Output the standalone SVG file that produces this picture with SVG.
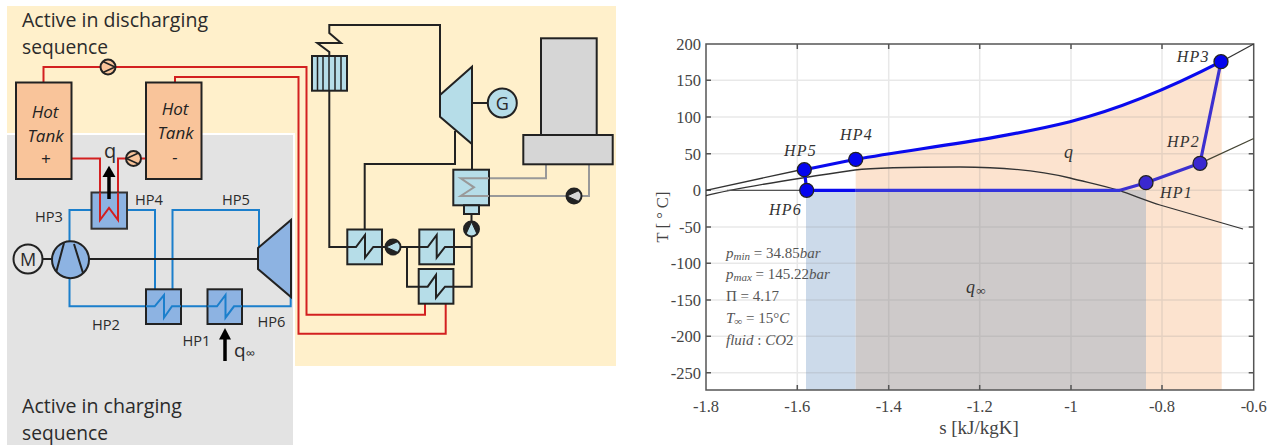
<svg xmlns="http://www.w3.org/2000/svg" width="1276" height="445" viewBox="0 0 1276 445">
<style>
.l{font-family:"Open Sans","Noto Sans",sans-serif;fill:#2b2b2b}
.big{font-size:20px}
.hp{font-size:15px}
.ital{font-family:"Open Sans","Noto Sans",sans-serif;font-style:italic;font-size:17px;fill:#222;text-anchor:middle}
.box{stroke:#222;stroke-width:2}
.tank{fill:#F9C49A}
.hb{fill:#8DB3E2}
.cy{fill:#B6DDE8}
.gr{fill:#D6D6D6}
.n{fill:none;stroke-linejoin:miter}
.red{stroke:#D32020;stroke-width:2}
.blu{stroke:#1B7FCC;stroke-width:2}
.blk{stroke:#222;stroke-width:2}
.gry{stroke:#999;stroke-width:2}
.grid{stroke:#8a8a8a;stroke-opacity:.2;stroke-width:1.5;fill:none}
.tick{stroke:#555;stroke-width:1.5;fill:none}
.num{font-family:"Liberation Serif",serif;font-size:16.5px;fill:#444}
.hpl{font-family:"Liberation Serif",serif;font-style:italic;font-size:16px;fill:#333;letter-spacing:1.2px}
.ann{font-family:"Liberation Serif",serif;font-size:15px;fill:#555}
.ann .i{font-style:italic}
.sub{font-size:11px;font-style:italic}
</style>
<defs>
<g id="pmp" stroke="#222"><circle r="7.500" stroke-width="2"/><path d="M-7 0L5-5.500M-7 0L5 5.500" fill="none" stroke-width="1.600"/></g>
<g id="pmpd" stroke="#222"><circle r="7.500" stroke-width="2"/><path d="M-7 0L5-5.500L0-7.200L-6-4.500ZM-7 0L5 5.500L0 7.200L-6 4.500Z" fill="#222" stroke-width="1"/></g>
</defs>
<rect width="1276" height="445" fill="#fff"/>

<g id="backgrounds">
<path d="M7 6H616V366H295V133H7Z" fill="#FFF0CB"/>
<rect x="7" y="135" width="286" height="310" fill="#E3E3E3"/>
</g>

<g id="connectors">
<g class="n red">
<path d="M43.500 82V67H306.500V314.700H425V304"/>
<path d="M175 82V77H298.500V333.700H445.700V304"/>
<path d="M71.500 158.500H100V193M118 193V158.500H126M141 158.500H146"/>
</g>
<g class="n blu">
<path d="M69.500 241V210H91.500M127 210H155V289M172.500 289V210H259V248"/>
<path d="M69.500 278V306.300H146M181 306.300H207.500M242 306.300H290.700V297"/>
</g>
<g class="n blk">
<path d="M42.500 259H52M89 259H258"/>
<path d="M329.300 56V52L317.300 43H341L329.300 33V25H440V95"/>
<path d="M455 131V164H364.700V229.500"/>
<path d="M472 144V169.700M471.500 214V221.500M471.700 236.500V286.700H453.400M418.700 286.700H407V247"/>
<path d="M472 103H488"/>
<path d="M329.300 90.700V247H347.300M382 247H385.500M400.500 247H419.300M454 247H471.700"/>
</g>
<path class="n gry" d="M546 164.500V178.300H489M489 196H566.500M581.500 196H589V164.500"/>
</g>

<g id="tank-plus"><rect class="box tank" x="16" y="82.500" width="55.500" height="96.500"/>
<text class="ital" x="45" y="117.500">Hot</text><text class="ital" x="45.500" y="141.700">Tank</text><text class="ital" x="45.500" y="165">+</text></g>
<g id="tank-minus"><rect class="box tank" x="146" y="82.500" width="55.500" height="96.500"/>
<text class="ital" x="175" y="115">Hot</text><text class="ital" x="175.500" y="139">Tank</text><text class="ital" x="175" y="163">-</text></g>
<g id="pump-1"><use href="#pmp" fill="#F9C49A" transform="translate(108 67) rotate(180)"/></g>
<g id="pump-2"><use href="#pmp" fill="#F9C49A" transform="translate(133.500 158.500)"/></g>

<g id="hp4-box"><rect x="91.500" y="192.500" width="35.500" height="36.200" class="hb" stroke="#333" stroke-width="2"/>
<path class="n red" d="M100 192.500V220L109 208L118 220V192.500"/></g>
<g id="q-arrow"><path d="M109 199V172" stroke="#000" stroke-width="3.500" fill="none"/><path d="M109 165.700L115.500 177H102.500Z" fill="#000"/></g>

<g id="motor"><circle cx="28" cy="259" r="14.500" fill="none" stroke="#222" stroke-width="2"/><text class="l" x="28" y="265.500" font-size="18" text-anchor="middle">M</text></g>
<g id="compressor"><circle cx="70.500" cy="259.700" r="18.500" class="hb" stroke="#222" stroke-width="2"/><path d="M64 243L56.500 271M74 244L83 273" fill="none" stroke="#222" stroke-width="2"/></g>
<g id="hp-turbine"><path d="M258 248L291 220V297L258 269Z" class="hb" stroke="#222" stroke-width="2"/></g>
<g id="hx-hp2"><rect x="146" y="289.300" width="35" height="34.700" class="hb" stroke="#222" stroke-width="2"/><path class="n blu" d="M146 306.300H154.700L164 295V317.700L172 306.300H181"/></g>
<g id="hx-hp1"><rect x="207.500" y="289.300" width="34.500" height="34.700" class="hb" stroke="#222" stroke-width="2"/><path class="n blu" d="M207.500 306.300H217L225.500 295V317.700L234 306.300H242"/></g>
<g id="qinf-arrow"><path d="M225 361V335" stroke="#000" stroke-width="3.500" fill="none"/><path d="M225 328L231 339.500H219Z" fill="#000"/></g>

<g id="labels-left">
<text class="l big" x="22" y="27" textLength="186" lengthAdjust="spacingAndGlyphs">Active in discharging</text>
<text class="l big" x="22" y="54" textLength="86" lengthAdjust="spacingAndGlyphs">sequence</text>
<text class="l big" x="22" y="413" textLength="160" lengthAdjust="spacingAndGlyphs">Active in charging</text>
<text class="l big" x="22" y="440" textLength="86" lengthAdjust="spacingAndGlyphs">sequence</text>
<text class="l" x="104" y="158" font-size="20">q</text>
<text class="l hp" x="35" y="221.700" textLength="28" lengthAdjust="spacingAndGlyphs">HP3</text>
<text class="l hp" x="135" y="204.700" textLength="28" lengthAdjust="spacingAndGlyphs">HP4</text>
<text class="l hp" x="222" y="205" textLength="28" lengthAdjust="spacingAndGlyphs">HP5</text>
<text class="l hp" x="92" y="330" textLength="28" lengthAdjust="spacingAndGlyphs">HP2</text>
<text class="l hp" x="182.500" y="346" textLength="28" lengthAdjust="spacingAndGlyphs">HP1</text>
<text class="l hp" x="257.500" y="326.700" textLength="28" lengthAdjust="spacingAndGlyphs">HP6</text>
<text class="l" x="234" y="357" font-size="19">q<tspan font-size="13" dy="1">∞</tspan></text>
</g>

<g id="heater"><rect x="312" y="56" width="35" height="34.700" class="cy" stroke="#222" stroke-width="2"/><path d="M317.500 56V90.700M323 56V90.700M329 56V90.700M335 56V90.700M341 56V90.700" stroke="#222" stroke-width="1.500" fill="none"/></g>
<g id="turbine"><path d="M440 95L472 66.700V144L440 116.700Z" class="cy box"/></g>
<g id="generator"><circle cx="502.300" cy="103" r="14.500" class="cy box"/><text class="l" x="502.300" y="110" font-size="18" text-anchor="middle">G</text></g>
<g id="condenser"><rect x="453.300" y="169.700" width="35.700" height="35.600" class="cy box"/><rect x="464" y="205.300" width="15" height="8.700" class="cy box"/><path class="n gry" d="M489 178.300H460.700L474 187.300L460.700 196H489"/></g>
<g id="pump-3"><use href="#pmpd" fill="#B6DDE8" transform="translate(471.500 229) rotate(90)"/></g>
<g id="pump-4"><use href="#pmpd" fill="#B6DDE8" transform="translate(393 247)"/></g>
<g id="pump-5"><use href="#pmpd" fill="#D6D6D6" transform="translate(574 196)"/></g>
<g id="hx-1"><rect x="347.300" y="229.500" width="34.700" height="34.800" class="cy box"/><path class="n blk" d="M347.300 247H356L365 235V257.700L373.300 247H382"/></g>
<g id="hx-2"><rect x="419.300" y="229.500" width="34.700" height="34.800" class="cy box"/><path class="n blk" d="M419.300 247H427.700L436.700 235V257.700L445 247H454"/></g>
<g id="hx-3"><rect x="418.700" y="269" width="34.700" height="34.700" class="cy box"/><path class="n blk" d="M418.700 286.700H427.700L436 275V297.700L445 286.700H453.400"/></g>
<g id="cooling-tower"><rect x="541" y="38.300" width="55.700" height="96.700" class="gr box"/><rect x="523.300" y="135" width="89.400" height="29.300" class="gr box"/></g>

<g id="plot">
<rect x="706" y="44" width="547.700" height="346" fill="#fff"/>
<path d="M855.700 159.300C920 148 1000 139 1070 121.700C1120 109 1170 88 1221.700 61.700V390H855.700Z" fill="#FCE3CF"/>
<rect x="806" y="190.300" width="49.700" height="199.700" fill="#CCDAEA"/>
<rect x="855.700" y="190.300" width="290.300" height="199.700" fill="#CECACA"/>
<path class="grid" d="M797.300 44V390M888.700 44V390M979.700 44V390M1071 44V390M1162 44V390M706 80.300H1253.700M706 117H1253.700M706 153.700H1253.700M706 190.300H1253.700M706 227H1253.700M706 263.300H1253.700M706 300H1253.700M706 336.300H1253.700M706 372.700H1253.700"/>
<rect x="706" y="44" width="547.700" height="346" class="tick"/>
<path class="tick" d="M797.300 44v5M888.700 44v5M979.700 44v5M1071 44v5M1162 44v5M797.300 390v-5M888.700 390v-5M979.700 390v-5M1071 390v-5M1162 390v-5M706 80.300h5M706 117h5M706 153.700h5M706 190.300h5M706 227h5M706 263.300h5M706 300h5M706 336.300h5M706 372.700h5M1253.700 80.300h-5M1253.700 117h-5M1253.700 153.700h-5M1253.700 190.300h-5M1253.700 227h-5M1253.700 263.300h-5M1253.700 300h-5M1253.700 336.300h-5M1253.700 372.700h-5"/>
<g fill="none" stroke="#333" stroke-width="1.300">
<path d="M706 190.300L800 170"/>
<path d="M1221 61.700L1253.700 44"/>
<path d="M706 195.700C740 187 800 178 855 170C875 167.500 920 167 960 167C1000 167 1040 171 1070 178C1090 183 1105 186 1120 190.700C1135 196 1150 202 1160 205L1243 229"/>
<path d="M727 190.300H806" stroke="#555"/>
<path d="M1200 163.300L1253.700 138.500" stroke="#443"/>
</g>
<g fill="none" stroke-width="3.200" stroke-linejoin="round">
<path d="M804.300 169.700L855.700 159.300C920 148 1000 139 1070 121.700C1120 109 1170 88 1221 61.700" stroke="#0A0AEE"/>
<path d="M806.700 190.300H855.700" stroke="#0A0AEE"/>
<path d="M855.700 190.300H1120" stroke="#3434DC"/>
<path d="M1120 190.300L1146 182.700L1200 163.300L1221 61.700" stroke="#3C30D0"/>
<path d="M804.300 169.700L806.700 190.300" stroke="#0A0AEE"/>
</g>
<g stroke="#222" stroke-width="1.300">
<circle cx="804.300" cy="169.700" r="7" fill="#0404EE"/>
<circle cx="806.700" cy="190.300" r="7" fill="#0404EE"/>
<circle cx="855.700" cy="159.300" r="7" fill="#0404EE"/>
<circle cx="1221" cy="61.700" r="7" fill="#0404EE"/>
<circle cx="1200" cy="163.300" r="7" fill="#3A28D0"/>
<circle cx="1146" cy="182.700" r="7" fill="#3A28D0"/>
</g>
<g class="num" text-anchor="end">
<text x="701" y="50">200</text><text x="701" y="86.300">150</text><text x="701" y="123">100</text><text x="701" y="159.700">50</text><text x="701" y="196.300">0</text><text x="701" y="233">-50</text><text x="701" y="269.300">-100</text><text x="701" y="306">-150</text><text x="701" y="342.300">-200</text><text x="701" y="378.700">-250</text>
</g>
<g class="num" text-anchor="middle">
<text x="706" y="412">-1.8</text><text x="797.300" y="412">-1.6</text><text x="888.700" y="412">-1.4</text><text x="979.700" y="412">-1.2</text><text x="1071" y="412">-1</text><text x="1162" y="412">-0.8</text><text x="1253.700" y="412">-0.6</text>
</g>
<text class="num" x="979" y="434" text-anchor="middle" style="font-size:19px">s [kJ/kgK]</text>
<text class="num" transform="translate(668 217) rotate(-90)" text-anchor="middle">T [ ° C]</text>
<text class="hpl" x="784" y="155.700">HP5</text>
<text class="hpl" x="840" y="140">HP4</text>
<text class="hpl" x="769" y="215">HP6</text>
<text class="hpl" x="1176.700" y="62">HP3</text>
<text class="hpl" x="1167" y="146.700">HP2</text>
<text class="hpl" x="1160" y="198">HP1</text>
<text class="hpl" x="1064" y="158" style="font-size:18px">q</text>
<text class="hpl" x="966" y="293" style="font-size:18px">q<tspan class="sub" dy="2" style="font-size:13px">∞</tspan></text>
<g class="ann">
<text x="726" y="257.700"><tspan class="i">p</tspan><tspan class="sub" dy="2">min</tspan><tspan dy="-2"> = 34.85</tspan><tspan class="i">bar</tspan></text>
<text x="726" y="279.300"><tspan class="i">p</tspan><tspan class="sub" dy="2">max</tspan><tspan dy="-2"> = 145.22</tspan><tspan class="i">bar</tspan></text>
<text x="726" y="301">Π = 4.17</text>
<text x="726" y="323"><tspan class="i">T</tspan><tspan class="sub" dy="2">∞</tspan><tspan dy="-2"> = 15°</tspan><tspan class="i">C</tspan></text>
<text x="726" y="345"><tspan class="i">fluid</tspan> :  <tspan class="i">CO</tspan>2</text>
</g>
</g>
</svg>
